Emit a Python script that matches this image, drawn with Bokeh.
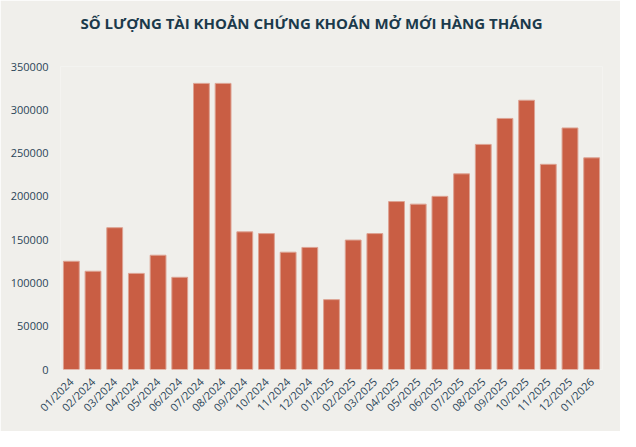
from bokeh.plotting import figure
from bokeh.models import FixedTicker, NumeralTickFormatter, ColumnDataSource, Title
from bokeh.embed import file_html
from bokeh.resources import INLINE
import math

title_text = "SỐ LƯỢNG TÀI KHOẢN CHỨNG KHOÁN MỞ MỚI HÀNG THÁNG"
months = ["01/2024", "02/2024", "03/2024", "04/2024", "05/2024", "06/2024",
          "07/2024", "08/2024", "09/2024", "10/2024", "11/2024", "12/2024",
          "01/2025", "02/2025", "03/2025", "04/2025", "05/2025", "06/2025",
          "07/2025", "08/2025", "09/2025", "10/2025", "11/2025", "12/2025",
          "01/2026"]
accounts = [125000, 113500, 163800, 111000, 132000, 106500,
            330500, 330500, 159000, 157000, 135500, 141000,
            80700, 149500, 157000, 194000, 191000, 200000,
            226000, 260000, 290000, 311000, 237000, 279000,
            244500]
y_ticks = [0, 50000, 100000, 150000, 200000, 250000, 300000, 350000]

BG = "#F0EFEB"
TEXT = "#2B4558"

src = ColumnDataSource(dict(m=months, v=accounts))

p = figure(x_range=months, y_range=(0, 350000), width=620, height=431,
           output_backend="svg", toolbar_location=None,
           min_border_left=60, min_border_right=18, min_border_top=66,
           min_border_bottom=62)
p.x_range.range_padding = 0
p.background_fill_color = BG
p.border_fill_color = BG
p.outline_line_color = None

p.vbar(x="m", top="v", width=0.73, source=src, fill_color="#C95E44",
       line_color="#DDA292", line_width=1)

spacer = Title(text=" ", text_font_size="24px", standoff=0)
p.add_layout(spacer, "above")
main_title = Title(text=title_text, align="left", offset=20,
                   text_font="Open Sans", text_font_style="bold",
                   text_font_size="15px", text_color="#1B3A4B")
p.add_layout(main_title, "above")

p.xgrid.visible = False
p.ygrid.visible = False

p.yaxis.ticker = FixedTicker(ticks=y_ticks)
p.yaxis.formatter = NumeralTickFormatter(format="0")
for ax in (p.xaxis[0], p.yaxis[0]):
    ax.axis_line_color = None
    ax.major_tick_line_color = None
    ax.minor_tick_line_color = None
    ax.major_label_text_color = TEXT
    ax.major_label_text_font = "Open Sans"
    ax.major_label_text_font_size = "11px"
p.yaxis.major_label_standoff = 6
p.xaxis.major_label_orientation = math.pi / 4
p.xaxis.major_label_standoff = 4

open("out.html", "w").write(file_html(p, INLINE))
